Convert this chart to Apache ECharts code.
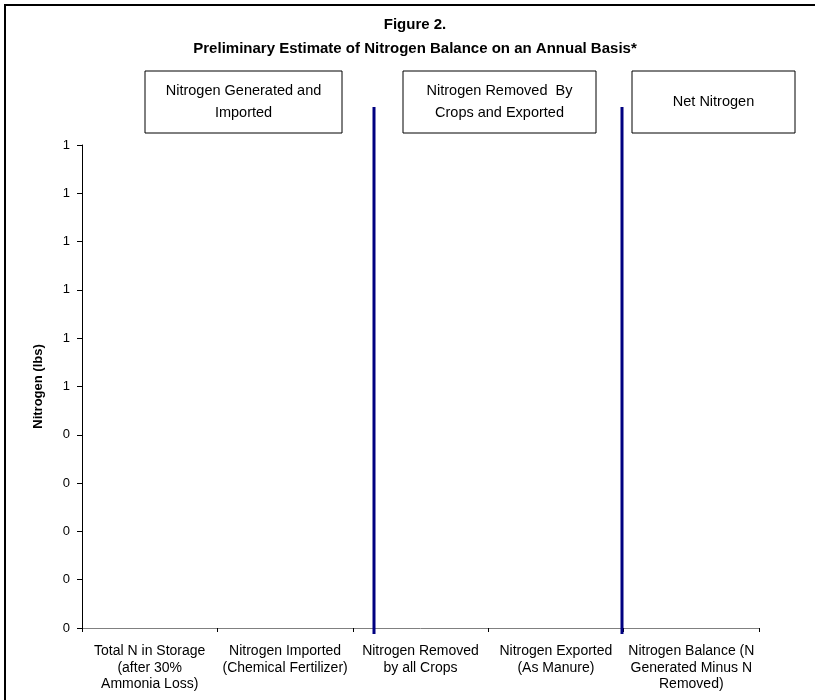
<!DOCTYPE html>
<html>
<head>
<meta charset="utf-8">
<script src="https://cdn.jsdelivr.net/npm/echarts@6/dist/echarts.min.js"></script>
<style>
  html, body { margin: 0; padding: 0; background: #fff; }
  #chart { width: 815px; height: 700px; }
</style>
</head>
<body>
<div id="chart"></div>
<script>
// Categories along the x axis
const categories = [
  'Total N in Storage\n(after 30%\nAmmonia Loss)',
  'Nitrogen Imported\n(Chemical Fertilizer)',
  'Nitrogen Removed\nby all Crops',
  'Nitrogen Exported\n(As Manure)',
  'Nitrogen Balance (N\nGenerated Minus N\nRemoved)'
];
// Nitrogen amounts (lbs) – no quantities entered yet
const nitrogenValues = [0, 0, 0, 0, 0];
// Section headings shown above the plot
const sectionHeadings = [
  'Nitrogen Generated and\nImported',
  'Nitrogen Removed  By\nCrops and Exported',
  'Net Nitrogen'
];

const FONT = 'Liberation Sans, Arial, sans-serif';
const chart = echarts.init(document.getElementById('chart'), null, { renderer: 'canvas' });

function headingBox(x, y, w, h, text) {
  return {
    type: 'group',
    children: [
      { type: 'rect', shape: { x: x, y: y, width: w, height: h },
        style: { fill: '#fff', stroke: '#000', lineWidth: 1 } },
      { type: 'text', x: x + w / 2, y: y + h / 2,
        style: { text: text, font: '14.5px ' + FONT, fill: '#000',
                 align: 'center', verticalAlign: 'middle', lineHeight: 22 } }
    ]
  };
}

function divider(x) {
  return { type: 'line', shape: { x1: x, y1: 107, x2: x, y2: 634 },
           style: { stroke: '#000080', lineWidth: 3 }, z: 10 };
}

chart.setOption({
  animation: false,
  backgroundColor: '#fff',
  title: {
    text: 'Figure 2.\nPreliminary Estimate of Nitrogen Balance on an Annual Basis*',
    left: 410, top: 8, textAlign: 'center',
    textStyle: { fontFamily: FONT, fontSize: 15, fontWeight: 'bold', color: '#000', lineHeight: 24 }
  },
  grid: { left: 82, right: 56, top: 145, bottom: 72 },
  xAxis: {
    type: 'category',
    data: categories,
    axisLine: { lineStyle: { color: '#808080', width: 1 } },
    axisTick: { show: true, length: 4, lineStyle: { color: '#000' }, alignWithLabel: false },
    axisLabel: { interval: 0, margin: 15, color: '#000', fontFamily: FONT, fontSize: 14, lineHeight: 16.5 }
  },
  yAxis: {
    type: 'value',
    min: 0, max: 1, interval: 0.1,
    name: 'Nitrogen (lbs)',
    nameLocation: 'middle', nameRotate: 90, nameGap: 37,
    nameTextStyle: { fontFamily: FONT, fontSize: 13, fontWeight: 'bold', color: '#000' },
    axisLine: { show: true, lineStyle: { color: '#000', width: 1 } },
    axisTick: { show: true, length: 5, lineStyle: { color: '#000' } },
    splitLine: { show: false },
    axisLabel: {
      margin: 12, color: '#000', fontFamily: FONT, fontSize: 13,
      formatter: v => String(Math.round(v))
    }
  },
  series: [{
    type: 'bar',
    data: nitrogenValues,
    itemStyle: { color: '#9999ff' }
  }],
  graphic: [
    { type: 'rect', shape: { x: 5, y: 5, width: 900, height: 800 },
      style: { fill: 'none', stroke: '#000', lineWidth: 2 }, silent: true },
    headingBox(145, 71, 197, 62, sectionHeadings[0]),
    headingBox(403, 71, 193, 62, sectionHeadings[1]),
    headingBox(632, 71, 163, 62, sectionHeadings[2]),
    divider(374),
    divider(622)
  ]
});
</script>
</body>
</html>
